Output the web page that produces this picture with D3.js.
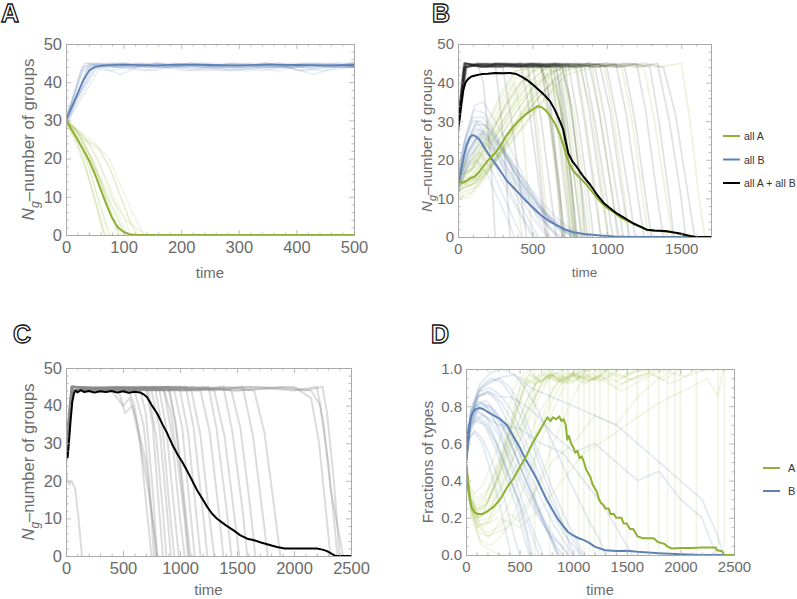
<!DOCTYPE html>
<html><head><meta charset="utf-8">
<script src="https://cdn.jsdelivr.net/npm/d3@7"></script>
<style>body{margin:0;background:#fff}svg{display:block}text{font-family:"Liberation Sans",Arial,sans-serif}</style>
</head><body>
<script>
// ---------- tick labels ----------
const xTicksA = [0,100,200,300,400,500];
const xTicksB = [0,500,1000,1500];
const xTicksCD = [0,500,1000,1500,2000,2500];
const yTicksN = [0,10,20,30,40,50];
const yTicksF = [0,0.2,0.4,0.6,0.8,1.0];
const legendB = ["all A","all B","all A + all B"];
const legendD = ["A","B"];

// ---------- Panel A ----------
const meanGreenA = [[0,30],[10,27.5],[20,25],[30,22.3],[40,19.5],[50,16],[60,12],[70,8],[80,4.5],[90,2],[100,0.8],[110,0.2],[120,0],[500,0]];
const meanBlueA = [[0,30],[10,33.5],[20,37],[30,40.5],[40,43],[50,44],[65,44.4],[100,44.6],[150,44.4],[200,44.6],[250,44.5],[300,44.4],[350,44.6],[400,44.5],[450,44.4],[500,44.5]];
const blueRunsA = [
 [[0,30],[28,44],[60,45],[95,44],[130,45],[170,44],[210,44],[250,45],[300,44],[340,43],[380,44],[420,45],[460,44],[500,45]],
 [[0,31],[35,45],[70,44],[110,44],[150,43],[190,44],[235,45],[270,44],[320,45],[360,44],[405,44],[445,43],[500,44]],
 [[0,29],[42,44],[80,45],[120,44],[165,45],[200,44],[245,43],[285,44],[330,44],[370,45],[410,44],[455,45],[500,44]],
 [[0,30],[50,45],[90,44],[135,43],[175,44],[220,45],[260,44],[305,44],[345,45],[390,44],[430,44],[470,45],[500,45]],
 [[0,30],[38,44],[75,43],[115,44],[155,45],[195,44],[240,44],[280,45],[325,44],[365,43],[400,44],[440,45],[500,44]],
 [[0,32],[55,44],[100,45],[140,44],[180,44],[225,43],[265,44],[310,45],[350,44],[395,44],[435,45],[475,44],[500,44]],
 [[0,30],[32,45],[65,44],[105,45],[145,44],[185,45],[230,44],[275,44],[315,43],[355,44],[400,45],[450,44],[500,45]],
 [[0,29],[60,44],[95,42],[125,44],[160,45],[205,44],[250,44],[290,45],[335,44],[375,44],[415,43],[460,44],[500,44]],
 [[0,31],[45,45],[85,44],[120,45],[160,44],[200,45],[240,44],[285,43],[330,44],[370,45],[410,44],[450,44],[500,45]],
 [[0,30],[25,43],[55,44],[95,45],[140,44],[180,44],[220,45],[260,44],[300,44],[345,45],[385,44],[430,42],[470,44],[500,44]],
 [[0,30],[48,44],[85,45],[130,44],[170,44],[215,45],[255,44],[295,43],[340,44],[380,44],[425,45],[465,44],[500,45]],
 [[0,28],[40,45],[80,44],[115,44],[155,45],[195,44],[240,45],[280,44],[320,44],[360,45],[405,43],[445,44],[500,44]],
 [[0,30],[30,44],[70,45],[110,44],[150,44],[190,45],[230,44],[270,43],[310,44],[350,45],[390,44],[430,44],[470,45],[500,44]],
 [[0,29],[52,44],[90,44],[130,45],[170,44],[210,43],[250,44],[290,45],[330,44],[370,44],[410,45],[450,44],[500,44]]
];
const greenRunsA = [
 [[0,30],[15,26],[30,20],[45,12],[60,4],[68,0],[500,0]],
 [[0,30],[20,25],[40,18],[55,10],[70,3],[78,0]],
 [[0,30],[20,27],[40,21],[60,13],[80,5],[92,0]],
 [[0,31],[25,26],[50,19],[70,11],[90,4],[102,0]],
 [[0,30],[30,26],[55,20],[75,12],[95,4],[108,0]],
 [[0,29],[20,24],[35,17],[50,9],[62,2],[66,0]],
 [[0,30],[30,25],[60,22],[80,16],[100,8],[115,2],[120,0]],
 [[0,30],[25,27],[50,24],[75,20],[95,13],[115,6],[135,0]],
 [[0,30],[15,28],[35,23],[55,16],[75,8],[88,2],[95,0]],
 [[0,30],[20,23],[40,15],[55,7],[65,1],[70,0]],
 [[0,30],[30,24],[50,18],[65,12],[85,6],[100,1],[105,0]],
 [[0,30],[35,25],[55,23],[75,18],[95,10],[110,4],[125,0]],
 [[0,31],[10,28],[30,22],[45,15],[58,8],[72,1],[75,0]],
 [[0,30],[40,24],[60,18],[80,11],[100,5],[110,1],[113,0]],
 [[0,30],[25,25],[45,20],[60,14],[75,7],[85,2],[90,0]],
 [[0,29],[30,23],[50,17],[70,12],[90,7],[110,3],[140,0]]
];

// ---------- Panel B ----------
const meanBlackB = [[0,28.8],[10,30.5],[20,34],[35,38],[50,40],[67,40.9],[90,41.6],[123,41.9],[160,42.2],[200,42.3],[250,42.5],[300,42.4],[350,42.5],[393,42.2],[430,41.5],[470,40.5],[500,39.6],[540,38.2],[580,36.8],[618,35.2],[650,33],[685,30],[707,27.8],[725,24.5],[741,21.7],[770,19.5],[797,18.2],[840,15.8],[887,13.6],[930,11.2],[977,8.9],[1020,7.5],[1067,6.1],[1120,4.9],[1179,3.5],[1230,2.6],[1269,1.9],[1320,1.7],[1360,1.6],[1403,1.5],[1450,1.2],[1493,0.9],[1530,0.5],[1560,0.25],[1590,0.05],[1610,0],[1700,0]];
const meanGreenB = [[0,14.5],[25,14],[56,14.5],[85,15.3],[112,15.6],[140,16.7],[168,18.2],[200,19.8],[225,20.8],[255,22],[281,23.4],[320,26],[371,28.6],[410,30.2],[460,31.9],[500,33],[535,33.9],[560,33.7],[590,32.8],[618,31.4],[650,29.5],[685,26.5],[710,23.5],[730,20.8],[755,18.5],[775,17.1],[820,15.3],[865,13.5],[910,11.3],[955,9.2],[1000,7.6],[1050,6.3],[1100,4.9],[1179,3.4],[1230,2.5],[1269,1.8],[1320,1.6],[1403,1.4],[1450,1.1],[1493,0.8],[1530,0.45],[1560,0.2],[1600,0],[1700,0]];
const meanBlueB = [[0,13.2],[20,17],[40,21],[60,24],[80,25.8],[95,26.4],[115,26.2],[146,25.1],[180,23],[213,21],[250,19],[281,17.3],[330,14.5],[393,12],[450,9.6],[505,7.6],[540,6.3],[573,5.2],[620,3.9],[685,2.6],[730,1.8],[775,1.2],[850,0.8],[955,0.4],[1050,0.15],[1179,0],[1700,0]];
const blackRunsB = [
 [[0,28],[45,44],[120,45],[200,44],[260,45],[300,44],[360,30],[420,12],[460,0]],
 [[0,30],[40,45],[150,44],[250,45],[350,44],[420,45],[470,35],[530,18],[590,0]],
 [[0,27],[55,44],[140,45],[230,44],[330,45],[430,44],[500,45],[560,30],[620,12],[660,0]],
 [[0,29],[50,45],[160,44],[260,45],[380,44],[480,45],[560,44],[610,32],[680,12],[720,0]],
 [[0,31],[35,44],[130,45],[240,44],[350,45],[450,44],[550,45],[620,44],[670,30],[730,10],[760,0]],
 [[0,26],[60,45],[170,44],[280,45],[400,44],[500,45],[600,44],[660,45],[710,30],[780,8],[800,0]],
 [[0,28],[45,45],[150,44],[270,45],[380,44],[490,45],[590,44],[680,45],[740,28],[810,6],[830,0]],
 [[0,30],[50,44],[180,45],[300,44],[420,45],[530,44],[640,45],[720,44],[770,30],[840,10],[870,0]],
 [[0,29],[40,45],[160,44],[290,45],[410,44],[520,45],[630,44],[740,45],[800,32],[880,10],[910,0]],
 [[0,27],[55,44],[170,45],[300,44],[430,45],[560,44],[680,45],[790,44],[850,30],[930,8],[960,0]],
 [[0,30],[45,45],[190,44],[320,45],[450,44],[580,45],[700,44],[820,45],[880,33],[960,12],[1010,0]],
 [[0,28],[50,44],[200,45],[340,44],[470,45],[600,44],[720,45],[850,44],[920,30],[1000,10],[1040,0]],
 [[0,29],[45,45],[180,44],[330,45],[480,44],[620,45],[760,44],[880,45],[950,32],[1040,10],[1080,0]],
 [[0,31],[40,44],[200,45],[360,44],[500,45],[640,44],[780,45],[920,44],[990,30],[1080,8],[1110,0]],
 [[0,28],[55,45],[210,44],[370,45],[520,44],[660,45],[800,44],[950,45],[1020,33],[1100,12],[1150,0]],
 [[0,27],[50,44],[220,45],[400,44],[560,45],[720,44],[880,45],[1000,44],[1070,30],[1160,8],[1190,0]],
 [[0,30],[45,45],[230,44],[420,45],[600,44],[780,45],[950,44],[1060,45],[1130,32],[1210,10],[1250,0]],
 [[0,29],[40,44],[240,45],[440,44],[640,45],[820,44],[1000,45],[1120,44],[1190,30],[1270,8],[1300,0]],
 [[0,28],[50,45],[250,44],[460,45],[680,44],[880,45],[1080,44],[1200,45],[1260,33],[1340,10],[1380,0]],
 [[0,30],[55,44],[260,45],[480,44],[700,45],[920,44],[1150,45],[1290,44],[1350,30],[1420,10],[1450,0]],
 [[0,29],[45,45],[280,44],[520,45],[760,44],[1000,45],[1200,44],[1340,45],[1420,30],[1500,10],[1530,0]],
 [[0,28],[50,44],[300,45],[560,44],[820,45],[1050,44],[1250,45],[1380,44],[1460,32],[1550,10],[1590,0]],
 [[0,30],[40,45],[200,44],[250,45],[280,35],[320,18],[350,0]],
 [[0,27],[60,44],[130,45],[170,40],[220,20],[250,0]],
 [[0,29],[45,44],[170,45],[290,44],[400,45],[470,44],[520,28],[570,10],[600,0]],
 [[0,31],[50,45],[160,44],[300,45],[420,44],[540,45],[600,40],[650,22],[700,0]],
 [[0,28],[40,44],[150,45],[280,44],[410,45],[540,44],[650,45],[700,36],[760,15],[790,0]],
 [[0,30],[55,45],[190,44],[320,45],[460,44],[600,45],[700,44],[760,34],[830,12],[850,0]],
 [[0,29],[50,44],[140,45],[260,44],[380,45],[500,44],[560,45],[620,35],[680,14],[710,0]],
 [[0,28],[45,45],[160,44],[280,45],[400,44],[520,45],[640,44],[690,33],[750,12],[780,0]]
];
const greenRunsB = [
 [[0,14],[100,18],[200,25],[300,33],[380,40],[430,30],[470,12],[500,0]],
 [[0,12],[100,15],[200,22],[300,30],[400,37],[480,42],[530,30],[580,12],[610,0]],
 [[0,16],[80,17],[180,24],[280,31],[380,38],[480,43],[560,44],[610,32],[670,12],[700,0]],
 [[0,13],[120,16],[220,21],[320,28],[420,34],[520,40],[600,43],[660,30],[720,10],[750,0]],
 [[0,15],[100,19],[200,27],[300,35],[400,42],[500,44],[620,44],[680,30],[750,8],[780,0]],
 [[0,11],[120,13],[220,18],[320,24],[420,31],[520,37],[620,42],[700,44],[750,30],[820,8],[840,0]],
 [[0,14],[100,16],[200,21],[300,27],[400,33],[500,38],[600,42],[700,44],[780,32],[860,10],[890,0]],
 [[0,17],[90,20],[190,28],[290,36],[390,43],[500,44],[650,45],[800,44],[860,30],[940,8],[960,0]],
 [[0,12],[110,14],[210,19],[310,25],[410,30],[510,35],[610,39],[710,43],[820,44],[900,32],[980,10],[1010,0]],
 [[0,15],[100,18],[200,24],[300,30],[400,36],[500,41],[600,44],[750,45],[900,44],[960,30],[1040,10],[1070,0]],
 [[0,13],[120,15],[220,20],[320,26],[420,32],[520,38],[620,43],[800,44],[980,45],[1040,32],[1120,10],[1150,0]],
 [[0,16],[100,20],[200,26],[300,33],[400,39],[500,43],[700,44],[900,45],[1100,44],[1170,30],[1250,8],[1280,0]],
 [[0,14],[130,15],[230,19],[330,23],[430,28],[530,33],[630,38],[730,42],[900,44],[1100,45],[1250,44],[1320,30],[1400,10],[1440,0]],
 [[0,12],[100,14],[200,18],[300,23],[350,20],[400,10],[430,0]],
 [[0,15],[80,13],[180,16],[280,22],[380,29],[480,35],[560,38],[620,30],[680,14],[710,0]],
 [[0,10],[100,12],[200,17],[300,23],[400,29],[500,34],[600,39],[680,42],[730,30],[800,10],[830,0]],
 [[0,17],[100,22],[200,30],[300,38],[380,43],[500,44],[700,45],[900,44],[1150,45],[1350,44],[1500,45],[1560,30],[1620,10],[1660,0]],
 [[0,13],[90,16],[190,22],[290,28],[390,35],[490,40],[590,44],[700,44],[770,30],[830,10],[860,0]],
 [[0,11],[60,10],[160,14],[260,20],[360,26],[460,32],[560,37],[640,40],[700,32],[760,14],[790,0]],
 [[0,16],[110,18],[210,24],[310,29],[410,35],[510,39],[600,42],[680,38],[720,22],[760,0]],
 [[0,14],[90,17],[180,23],[270,30],[360,36],[450,41],[540,44],[640,43],[700,30],[750,12],[780,0]],
 [[0,12],[120,14],[240,19],[360,25],[480,31],[580,36],[660,38],[720,28],[770,10],[800,0]]
];
const blueRunsB = [
 [[0,14],[60,24],[120,30],[200,26],[300,18],[400,10],[480,4],[540,0]],
 [[0,12],[70,22],[140,27],[220,24],[320,17],[420,10],[520,4],[600,0]],
 [[0,16],[50,26],[110,33],[180,32],[260,26],[360,18],[460,10],[560,3],[620,0]],
 [[0,13],[80,21],[150,24],[230,20],[330,12],[430,5],[500,0]],
 [[0,15],[60,25],[130,30],[210,28],[310,22],[410,15],[510,8],[610,3],[680,0]],
 [[0,11],[70,19],[140,22],[220,18],[300,11],[380,4],[430,0]],
 [[0,14],[50,23],[120,28],[200,27],[300,23],[400,17],[500,11],[600,6],[700,2],[760,0]],
 [[0,17],[60,27],[110,34],[170,35],[250,30],[350,23],[450,15],[550,8],[650,3],[720,0]],
 [[0,12],[80,20],[150,25],[250,22],[350,16],[450,10],[550,5],[650,1],[700,0]],
 [[0,15],[70,24],[140,28],[240,25],[340,19],[440,13],[540,8],[640,4],[740,1],[800,0]],
 [[0,13],[60,21],[130,26],[200,24],[280,18],[360,11],[440,5],[500,1],[530,0]],
 [[0,16],[50,25],[100,31],[170,31],[260,26],[360,20],[460,13],[560,7],[660,3],[760,1],[850,0]],
 [[0,14],[80,22],[160,27],[260,24],[360,19],[460,14],[560,9],[660,5],[760,2],[880,0]],
 [[0,12],[60,18],[120,20],[200,16],[280,9],[350,3],[380,0]],
 [[0,15],[55,24],[120,29],[190,29],[280,24],[380,17],[480,11],[580,6],[680,2],[780,0]],
 [[0,13],[65,22],[130,26],[210,25],[300,20],[400,14],[500,9],[600,5],[700,2],[820,0]],
 [[0,16],[45,25],[100,30],[160,30],[240,26],[330,20],[430,14],[530,9],[630,5],[730,2],[900,0]],
 [[0,14],[75,23],[150,27],[240,24],[330,18],[420,12],[510,7],[600,3],[660,0]]
];

// ---------- Panel C ----------
const meanBlackC = [[0,28],[8,27],[15,26.3],[25,30],[40,36],[55,41],[70,43.3],[85,44],[100,43.5],[130,44.1],[160,43.6],[200,43.9],[250,43.5],[300,43.8],[350,43.6],[400,43.9],[450,43.5],[500,43.8],[550,43.4],[600,43.7],[650,43.5],[680,43],[710,42.3],[750,40.2],[800,37.9],[850,34.8],[890,32.5],[930,29.8],[975,27.2],[1020,25],[1060,22.8],[1100,20.5],[1150,17.5],[1200,15],[1240,13],[1280,11.3],[1325,9.9],[1400,8.2],[1470,6.8],[1530,5.5],[1590,4.6],[1650,4.2],[1710,3.6],[1780,3],[1850,2.4],[1920,2],[2000,2],[2100,2],[2200,2],[2250,1.7],[2290,1.3],[2330,0.6],[2360,0.1],[2400,0],[2500,0]];
const grayRunsC = [
 [[0,22],[15,20],[30,19],[50,20],[80,18],[110,10],[140,0]],
 [[0,27],[50,45],[200,44],[400,45],[550,44],[600,40],[650,30],[700,15],[750,0]],
 [[0,25],[60,45],[250,44],[450,45],[600,44],[680,35],[730,20],[770,0]],
 [[0,28],[55,45],[300,44],[500,45],[650,44],[700,38],[760,18],[800,0]],
 [[0,26],[50,44],[300,45],[550,44],[700,45],[760,35],[810,15],[850,0]],
 [[0,29],[45,45],[350,44],[600,45],[720,44],[790,32],[850,12],[880,0]],
 [[0,24],[65,45],[300,44],[550,45],[750,44],[820,34],[880,14],[920,0]],
 [[0,27],[55,44],[350,45],[600,44],[780,45],[850,33],[910,12],[950,0]],
 [[0,28],[50,45],[400,44],[650,45],[820,44],[880,34],[950,12],[990,0]],
 [[0,26],[60,45],[400,44],[700,45],[860,44],[930,32],[1000,10],[1040,0]],
 [[0,25],[55,44],[450,45],[750,44],[900,45],[970,33],[1040,12],[1080,0]],
 [[0,28],[50,45],[450,44],[800,45],[950,44],[1020,34],[1090,12],[1130,0]],
 [[0,27],[60,45],[500,44],[850,45],[1000,44],[1070,33],[1140,12],[1180,0]],
 [[0,26],[55,44],[500,45],[900,44],[1050,45],[1120,34],[1200,12],[1240,0]],
 [[0,29],[50,45],[550,44],[950,45],[1100,44],[1180,32],[1260,10],[1300,0]],
 [[0,25],[60,45],[600,44],[1000,45],[1180,44],[1260,33],[1340,12],[1380,0]],
 [[0,28],[55,44],[650,45],[1050,44],[1250,45],[1320,34],[1410,12],[1450,0]],
 [[0,27],[50,45],[700,44],[1100,45],[1300,44],[1390,32],[1480,10],[1520,0]],
 [[0,26],[60,44],[750,45],[1150,44],[1380,45],[1460,33],[1550,12],[1590,0]],
 [[0,28],[55,45],[800,44],[1200,45],[1450,44],[1530,34],[1620,12],[1660,0]],
 [[0,27],[50,44],[850,45],[1300,44],[1550,45],[1640,32],[1730,10],[1770,0]],
 [[0,25],[60,45],[900,44],[1400,45],[1650,44],[1740,33],[1830,12],[1880,0]],
 [[0,28],[55,44],[1000,45],[1500,44],[1900,45],[2150,44],[2230,40],[2300,25],[2350,10],[2380,0]],
 [[0,26],[50,45],[1000,44],[1600,45],[2000,44],[2200,45],[2260,35],[2320,18],[2400,5],[2430,0]],
 [[0,27],[60,44],[900,45],[1500,44],[2000,45],[2150,42],[2220,30],[2280,12],[2320,0]],
 [[0,29],[50,45],[400,44],[500,40],[560,42],[620,36],[700,25],[760,10],[790,0]],
 [[0,26],[55,44],[450,45],[520,38],[580,40],[650,30],[720,18],[780,5],[800,0]],
 [[0,28],[50,45],[1100,44],[1700,45],[2100,44],[2250,45],[2290,38],[2350,20],[2400,0]],
 [[0,27],[55,45],[600,44],[900,45],[960,36],[1020,20],[1070,6],[1090,0]],
 [[0,26],[50,44],[500,45],[860,44],[920,38],[980,25],[1040,10],[1070,0]]
];

// ---------- Panel D ----------
const meanGreenD = [[0,0.5],[10,0.4],[25,0.33],[50,0.26],[80,0.23],[110,0.22],[150,0.22],[200,0.235],[260,0.26],[320,0.3],[380,0.36],[440,0.41],[500,0.47],[560,0.53],[620,0.6],[680,0.66],[740,0.72],[760,0.74],[790,0.72],[810,0.74],[840,0.73],[870,0.745],[890,0.72],[910,0.73],[930,0.7],[945,0.62],[960,0.64],[980,0.6],[1000,0.58],[1020,0.55],[1040,0.56],[1060,0.52],[1080,0.53],[1100,0.5],[1120,0.46],[1140,0.44],[1160,0.42],[1180,0.38],[1200,0.36],[1220,0.34],[1240,0.3],[1260,0.28],[1280,0.27],[1300,0.25],[1330,0.25],[1350,0.22],[1380,0.22],[1400,0.2],[1450,0.2],[1470,0.17],[1500,0.17],[1530,0.14],[1560,0.14],[1600,0.1],[1650,0.09],[1750,0.09],[1790,0.07],[1850,0.06],[1880,0.045],[1920,0.035],[2000,0.037],[2100,0.038],[2200,0.04],[2330,0.04],[2340,0.025],[2390,0.02],[2410,0],[2500,0]];
const meanBlueD = [[0,0.5],[10,0.62],[25,0.69],[50,0.75],[80,0.78],[120,0.79],[160,0.785],[200,0.77],[260,0.75],[320,0.73],[380,0.7],[420,0.66],[460,0.62],[500,0.58],[550,0.52],[600,0.47],[650,0.42],[700,0.36],[750,0.3],[800,0.25],[850,0.2],[900,0.16],[950,0.125],[1000,0.105],[1050,0.09],[1100,0.08],[1150,0.065],[1200,0.045],[1250,0.035],[1300,0.025],[1400,0.022],[1500,0.023],[1600,0.017],[1700,0.014],[1800,0.01],[1900,0.007],[2000,0.004],[2200,0],[2500,0]];
const greenRunsD = [
 [[0,0.5],[30,0.3],[80,0.2],[150,0.22],[250,0.35],[350,0.55],[450,0.75],[550,0.9],[620,0.97],[700,0.93],[780,0.98],[860,0.95],[900,1],[900,0]],
 [[0,0.5],[40,0.28],[100,0.15],[200,0.18],[300,0.3],[400,0.45],[500,0.62],[600,0.78],[700,0.92],[760,0.97],[850,0.94],[950,0.99],[1050,0.95],[1150,1],[1150,0]],
 [[0,0.5],[30,0.35],[90,0.28],[180,0.32],[280,0.45],[380,0.62],[480,0.8],[560,0.95],[600,0.98],[700,0.93],[800,0.97],[900,0.92],[1000,0.96],[1100,0.99],[1250,1],[1250,0]],
 [[0,0.5],[50,0.25],[120,0.12],[220,0.1],[320,0.18],[420,0.3],[520,0.45],[620,0.6],[720,0.75],[820,0.9],[900,0.96],[1000,0.93],[1100,0.98],[1200,0.94],[1300,0.99],[1450,0.96],[1600,1],[1600,0]],
 [[0,0.5],[30,0.32],[100,0.25],[200,0.3],[300,0.42],[400,0.58],[500,0.73],[600,0.88],[680,0.95],[780,0.99],[900,0.94],[1050,1],[1050,0]],
 [[0,0.5],[40,0.3],[110,0.2],[210,0.25],[310,0.38],[410,0.55],[510,0.7],[610,0.82],[710,0.93],[780,0.97],[900,0.93],[1000,0.98],[1100,0.95],[1250,0.99],[1400,1],[1400,0]],
 [[0,0.5],[25,0.38],[80,0.33],[160,0.38],[260,0.52],[360,0.7],[440,0.88],[500,0.96],[600,0.92],[700,0.98],[780,1],[780,0]],
 [[0,0.5],[50,0.22],[130,0.08],[230,0.05],[330,0.1],[430,0.2],[530,0.35],[630,0.5],[730,0.66],[830,0.8],[930,0.92],[1000,0.97],[1150,0.93],[1300,0.98],[1450,0.95],[1600,0.99],[1800,1],[1800,0]],
 [[0,0.5],[35,0.3],[100,0.22],[190,0.26],[290,0.4],[390,0.56],[490,0.72],[590,0.86],[690,0.95],[720,0.98],[850,0.93],[1000,0.97],[1150,0.94],[1330,1],[1330,0]],
 [[0,0.5],[45,0.26],[120,0.18],[220,0.2],[320,0.3],[420,0.42],[520,0.55],[620,0.68],[720,0.8],[820,0.9],[920,0.96],[950,0.98],[1100,0.93],[1250,0.97],[1400,0.9],[1550,0.95],[1700,0.98],[1850,0.94],[2000,1],[2000,0]],
 [[0,0.5],[30,0.34],[90,0.26],[170,0.3],[270,0.42],[370,0.58],[470,0.76],[550,0.92],[590,0.97],[700,0.93],[850,0.98],[950,0.95],[1100,1],[1100,0]],
 [[0,0.5],[40,0.27],[110,0.15],[210,0.12],[310,0.15],[410,0.22],[500,0.18],[600,0.28],[700,0.42],[800,0.58],[900,0.72],[1000,0.85],[1100,0.95],[1150,0.98],[1300,0.93],[1450,0.88],[1600,0.93],[1750,0.97],[1900,0.92],[2050,0.96],[2200,0.99],[2350,1],[2350,0]],
 [[0,0.5],[50,0.2],[150,0.05],[250,0.02],[330,0],[400,0]],
 [[0,0.5],[35,0.3],[100,0.24],[200,0.28],[300,0.4],[400,0.55],[500,0.68],[600,0.8],[700,0.9],[800,0.97],[830,0.98],[950,0.93],[1100,0.97],[1250,0.94],[1400,0.99],[1500,1],[1500,0]],
 [[0,0.5],[30,0.36],[100,0.3],[200,0.35],[300,0.5],[400,0.68],[480,0.85],[540,0.95],[650,0.92],[780,0.97],[900,0.93],[1050,0.98],[1200,1],[1200,0]],
 [[0,0.5],[50,0.25],[150,0.15],[300,0.2],[500,0.15],[700,0.25],[900,0.4],[1100,0.55],[1300,0.62],[1500,0.7],[1700,0.78],[1900,0.85],[2100,0.9],[2250,0.95],[2350,0.85],[2400,1],[2410,1],[2410,0]],
 [[0,0.5],[40,0.29],[110,0.2],[210,0.23],[310,0.34],[410,0.48],[510,0.62],[610,0.76],[710,0.88],[790,0.96],[870,0.99],[950,1],[950,0]],
 [[0,0.5],[45,0.25],[120,0.16],[220,0.18],[320,0.26],[420,0.36],[520,0.48],[620,0.6],[720,0.72],[820,0.85],[900,0.93],[980,0.97],[1100,0.92],[1250,0.96],[1400,0.93],[1550,0.98],[1700,1],[1700,0]],
 [[0,0.5],[60,0.2],[200,0.1],[400,0.15],[600,0.3],[800,0.5],[1000,0.6],[1200,0.75],[1400,0.7],[1600,0.85],[1800,0.95],[1900,0.98],[2050,0.96],[2150,1],[2150,0]],
 [[0,0.5],[35,0.32],[95,0.24],[185,0.27],[285,0.4],[385,0.6],[470,0.82],[520,0.96],[580,0.99],[640,1],[640,0]],
 [[0,0.5],[40,0.3],[110,0.23],[200,0.28],[300,0.42],[400,0.6],[490,0.8],[560,0.92],[700,0.97],[850,0.93],[1000,0.98],[1150,0.94],[1300,0.97],[1450,0.92],[1600,0.96],[1750,0.99],[1880,1],[1880,0]],
 [[0,0.5],[45,0.28],[120,0.2],[220,0.24],[320,0.36],[420,0.52],[520,0.68],[600,0.84],[660,0.93],[800,0.97],[950,0.92],[1100,0.96],[1250,0.93],[1400,0.98],[1550,0.94],[1700,0.97],[1850,0.99],[1950,1],[1950,0]]
];
const blueRunsD = [
 [[0,0.5],[30,0.68],[80,0.8],[150,0.82],[250,0.75],[350,0.6],[450,0.42],[550,0.25],[650,0.1],[720,0]],
 [[0,0.5],[40,0.72],[110,0.85],[200,0.88],[300,0.82],[400,0.7],[500,0.55],[600,0.38],[700,0.22],[800,0.08],[850,0]],
 [[0,0.5],[30,0.65],[90,0.72],[180,0.7],[280,0.6],[380,0.45],[480,0.3],[560,0.12],[600,0]],
 [[0,0.5],[50,0.75],[130,0.9],[230,0.95],[330,0.93],[430,0.85],[530,0.72],[630,0.58],[730,0.42],[830,0.28],[930,0.12],[1000,0]],
 [[0,0.5],[35,0.68],[100,0.75],[200,0.7],[300,0.58],[400,0.42],[500,0.28],[580,0.1],[620,0]],
 [[0,0.5],[40,0.7],[110,0.8],[210,0.77],[310,0.68],[410,0.55],[510,0.42],[610,0.3],[710,0.18],[810,0.06],[860,0]],
 [[0,0.5],[25,0.62],[80,0.67],[160,0.62],[260,0.48],[360,0.3],[440,0.12],[500,0]],
 [[0,0.5],[50,0.78],[130,0.92],[230,0.98],[330,1],[450,0.97],[550,0.9],[650,0.8],[750,0.68],[850,0.55],[950,0.42],[1050,0.3],[1150,0.18],[1250,0.08],[1300,0]],
 [[0,0.5],[35,0.7],[100,0.78],[190,0.74],[290,0.6],[390,0.45],[490,0.3],[590,0.15],[680,0]],
 [[0,0.5],[45,0.74],[120,0.82],[220,0.8],[320,0.72],[420,0.6],[520,0.45],[620,0.32],[720,0.2],[820,0.1],[920,0.03],[960,0]],
 [[0,0.5],[30,0.66],[90,0.74],[170,0.7],[270,0.58],[370,0.42],[470,0.26],[550,0.08],[590,0]],
 [[0,0.5],[40,0.73],[110,0.85],[210,0.88],[310,0.85],[410,0.85],[510,0.82],[610,0.78],[710,0.72],[810,0.65],[910,0.6],[1010,0.55],[1200,0.6],[1400,0.5],[1600,0.4],[1800,0.45],[2000,0.3],[2200,0.2],[2300,0.05],[2330,0]],
 [[0,0.5],[50,0.8],[150,0.9],[300,0.95],[450,0.97],[600,0.9],[800,0.85],[1000,0.8],[1200,0.75],[1400,0.7],[1600,0.6],[1800,0.5],[2000,0.4],[2200,0.3],[2350,0.1],[2400,0]],
 [[0,0.5],[35,0.69],[100,0.77],[200,0.74],[300,0.65],[400,0.52],[500,0.4],[600,0.28],[700,0.18],[800,0.1],[900,0.04],[950,0]],
 [[0,0.5],[45,0.76],[120,0.88],[220,0.9],[320,0.86],[420,0.78],[520,0.66],[620,0.52],[720,0.38],[820,0.26],[920,0.15],[1020,0.06],[1080,0]],
 [[0,0.5],[30,0.63],[80,0.66],[150,0.6],[230,0.45],[310,0.28],[380,0.1],[420,0]],
 [[0,0.5],[40,0.75],[110,0.88],[210,0.93],[310,0.95],[410,0.9],[510,0.8],[610,0.65],[710,0.5],[810,0.35],[910,0.22],[1010,0.1],[1100,0]],
 [[0,0.5],[50,0.7],[150,0.75],[300,0.7],[500,0.68],[700,0.6],[900,0.55],[1100,0.4],[1300,0.25],[1450,0.1],[1550,0]],
 [[0,0.5],[35,0.72],[100,0.82],[190,0.83],[290,0.76],[390,0.64],[490,0.5],[590,0.36],[690,0.22],[790,0.1],[870,0]],
 [[0,0.5],[40,0.7],[120,0.79],[220,0.8],[320,0.74],[420,0.64],[520,0.52],[620,0.4],[720,0.28],[820,0.16],[920,0.07],[990,0]],
 [[0,0.5],[30,0.7],[90,0.8],[170,0.81],[260,0.76],[360,0.66],[460,0.54],[560,0.4],[660,0.26],[760,0.13],[850,0.04],[900,0]],
 [[0,0.5],[45,0.77],[130,0.86],[230,0.87],[330,0.82],[430,0.72],[530,0.6],[630,0.46],[730,0.32],[830,0.2],[930,0.1],[1030,0.03],[1070,0]]
];

// ---------- drawing ----------
const GREEN = "#8fb032", BLUE = "#5e81b5";
const svg = d3.select("body").append("svg").attr("width",797).attr("height",599);
const FRAME = "#a9a9a9", TXT = "#6b6b6b";
let clipId = 0;

function panel(o){
  const x = d3.scaleLinear().domain(o.xDom).range([o.left,o.right]);
  const y = d3.scaleLinear().domain(o.yDom).range([o.bottom,o.top]);
  const g = svg.append("g");
  const id = "clip"+(clipId++);
  svg.append("clipPath").attr("id",id).append("rect")
    .attr("x",o.left).attr("y",o.top-1).attr("width",o.right-o.left).attr("height",o.bottom-o.top+1);
  const plot = g.append("g").attr("clip-path",`url(#${id})`);
  const xMinor = d3.range(o.xDom[0], o.xDom[1]+1e-9, o.xMinor).filter(v=>!o.xTicks.some(t=>Math.abs(t-v)<1e-9));
  const yMinor = d3.range(o.yDom[0], o.yDom[1]+1e-9, o.yMinor).filter(v=>!o.yTicks.some(t=>Math.abs(t-v)<1e-9));
  const axes = g.append("g");
  function styleAx(sel){ sel.selectAll("path,line").attr("stroke",FRAME).attr("stroke-width",0.8);
    sel.selectAll("text").attr("fill",TXT).attr("font-size",o.tickFs).attr("font-family",'"Liberation Sans",Arial,sans-serif'); }
  axes.append("g").attr("transform",`translate(0,${o.bottom})`).call(d3.axisBottom(x).tickValues(o.xTicks).tickSizeInner(-5).tickSizeOuter(0).tickPadding(6).tickFormat(o.xFmt||d3.format("d"))).call(styleAx);
  axes.append("g").attr("transform",`translate(0,${o.bottom})`).call(d3.axisBottom(x).tickValues(xMinor).tickSizeInner(-2.5).tickSizeOuter(0).tickFormat("")).call(styleAx);
  axes.append("g").attr("transform",`translate(0,${o.top})`).call(d3.axisTop(x).tickValues(o.xTicks).tickSizeInner(-5).tickSizeOuter(0).tickFormat("")).call(styleAx);
  axes.append("g").attr("transform",`translate(0,${o.top})`).call(d3.axisTop(x).tickValues(xMinor).tickSizeInner(-2.5).tickSizeOuter(0).tickFormat("")).call(styleAx);
  axes.append("g").attr("transform",`translate(${o.left},0)`).call(d3.axisLeft(y).tickValues(o.yTicks).tickSizeInner(-5).tickSizeOuter(0).tickPadding(4).tickFormat(o.yFmt||d3.format("d"))).call(styleAx);
  axes.append("g").attr("transform",`translate(${o.left},0)`).call(d3.axisLeft(y).tickValues(yMinor).tickSizeInner(-2.5).tickSizeOuter(0).tickFormat("")).call(styleAx);
  axes.append("g").attr("transform",`translate(${o.right},0)`).call(d3.axisRight(y).tickValues(o.yTicks).tickSizeInner(-5).tickSizeOuter(0).tickFormat("")).call(styleAx);
  axes.append("g").attr("transform",`translate(${o.right},0)`).call(d3.axisRight(y).tickValues(yMinor).tickSizeInner(-2.5).tickSizeOuter(0).tickFormat("")).call(styleAx);
  axes.selectAll(".domain").attr("stroke",FRAME).attr("stroke-width",1);
  g.append("text").attr("x",(o.left+o.right)/2).attr("y",o.timeY).attr("text-anchor","middle")
    .attr("fill",TXT).attr("font-size",o.labFs).text("time");
  const yl = g.append("text").attr("transform",`translate(${o.ylabX},${(o.top+o.bottom)/2}) rotate(-90)`)
    .attr("text-anchor","middle").attr("fill",TXT).attr("font-size",o.ylabFs);
  if(o.ylab==="N"){
    yl.append("tspan").attr("font-style","italic").text("N");
    yl.append("tspan").attr("font-style","italic").attr("font-size",o.ylabFs*0.72).attr("dy",o.ylabFs*0.28).text("g");
    yl.append("tspan").attr("dy",-o.ylabFs*0.28).text("\u2013number of groups");
  } else yl.text(o.ylab);
  svg.append("text").attr("x",o.lx).attr("y",o.ly).attr("font-size",25).attr("font-weight","bold")
    .attr("fill","#fff").attr("stroke","#111").attr("stroke-width",1.3).attr("font-family",'"Liberation Sans",Arial,sans-serif').text(o.letter);
  const line = d3.line().x(d=>x(d[0])).y(d=>y(d[1]));
  return {x,y,plot,line,g};
}
function runs(p, data, color, op, w){
  p.plot.append("g").selectAll("path").data(data).join("path")
    .attr("d",p.line).attr("fill","none").attr("stroke",color).attr("stroke-opacity",op)
    .attr("stroke-width",w).attr("stroke-linejoin","round");
}
function mean(p, data, color, w){
  p.plot.append("path").datum(data).attr("d",p.line).attr("fill","none").attr("stroke",color)
    .attr("stroke-width",w||2).attr("stroke-linejoin","round");
}

// Panel A
const pA = panel({left:66,right:354,top:44,bottom:235,xDom:[0,500],yDom:[0,50],xTicks:xTicksA,yTicks:yTicksN,xMinor:20,yMinor:2,ylab:"N",ylabX:34,letter:"A",lx:1,ly:22,tickFs:16.5,labFs:15,ylabFs:17,timeY:278});
runs(pA, greenRunsA, GREEN, 0.13, 1.5);
runs(pA, blueRunsA, BLUE, 0.14, 1.5);
mean(pA, meanBlueA, BLUE, 1.8);
mean(pA, meanGreenA, GREEN, 2);

// Panel B
const pB = panel({left:458,right:711,top:44,bottom:237,xDom:[0,1700],yDom:[0,50],xTicks:xTicksB,yTicks:yTicksN,xMinor:100,yMinor:2,ylab:"N",ylabX:432,letter:"B",lx:432,ly:22,tickFs:15,labFs:13.5,ylabFs:15,timeY:277});
runs(pB, blueRunsB, BLUE, 0.15, 1.8);
runs(pB, greenRunsB, GREEN, 0.15, 1.8);
runs(pB, blackRunsB, "#222", 0.13, 1.8);
mean(pB, meanBlueB, BLUE, 2);
mean(pB, meanGreenB, GREEN, 2);
mean(pB, meanBlackB, "#000", 2);
const legB = svg.append("g");
[GREEN,BLUE,"#000"].forEach((c,i)=>{
  const yy = 136 + i*23.5;
  legB.append("line").attr("x1",723).attr("x2",740).attr("y1",yy).attr("y2",yy).attr("stroke",c).attr("stroke-width",2);
  legB.append("text").attr("x",744).attr("y",yy+4).attr("font-size",10.5).attr("fill","#333").text(legendB[i]);
});

// Panel C
const pC = panel({left:66,right:351,top:368,bottom:556,xDom:[0,2500],yDom:[0,50],xTicks:xTicksCD,yTicks:yTicksN,xMinor:100,yMinor:2,ylab:"N",ylabX:34,letter:"C",lx:13,ly:343,tickFs:16.5,labFs:15,ylabFs:16.5,timeY:595});
runs(pC, grayRunsC, "#8a8a8a", 0.3, 2);
mean(pC, meanBlackC, "#000", 2);

// Panel D
const pD = panel({left:466,right:734,top:369,bottom:555,xDom:[0,2500],yDom:[0,1],xTicks:xTicksCD,yTicks:yTicksF,xMinor:100,yMinor:0.05,yFmt:d3.format(".1f"),ylab:"Fractions of types",ylabX:433,letter:"D",lx:431,ly:343,tickFs:15,labFs:14.5,ylabFs:15.5,timeY:595});
runs(pD, greenRunsD, GREEN, 0.13, 1.7);
runs(pD, blueRunsD, BLUE, 0.16, 1.9);
mean(pD, meanBlueD, BLUE, 2);
mean(pD, meanGreenD, GREEN, 2);
const legD = svg.append("g");
[GREEN,BLUE].forEach((c,i)=>{
  const yy = 468 + i*23;
  legD.append("line").attr("x1",763).attr("x2",780).attr("y1",yy).attr("y2",yy).attr("stroke",c).attr("stroke-width",2);
  legD.append("text").attr("x",788).attr("y",yy+4).attr("font-size",11).attr("fill","#333").text(legendD[i]);
});
</script>
</body></html>
